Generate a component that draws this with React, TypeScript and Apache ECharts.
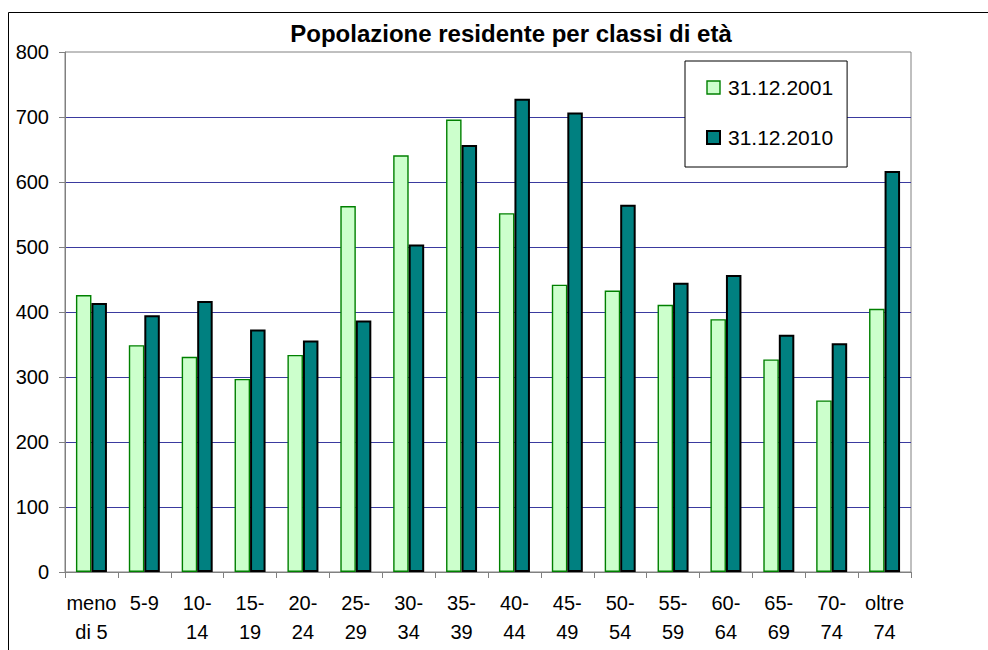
import React, { useEffect, useRef } from "react";
import * as echarts from "echarts";

const categories = [
  "meno\ndi 5", "5-9", "10-\n14", "15-\n19", "20-\n24", "25-\n29", "30-\n34", "35-\n39",
  "40-\n44", "45-\n49", "50-\n54", "55-\n59", "60-\n64", "65-\n69", "70-\n74", "oltre\n74",
];
const values2001 = [426, 349, 331, 297, 334, 563, 641, 696, 552, 442, 433, 411, 389, 327, 264, 405];
const values2010 = [414, 395, 417, 373, 356, 387, 504, 657, 728, 707, 565, 445, 457, 365, 352, 617];
const seriesNames = ["31.12.2001", "31.12.2010"];
const titleText = "Popolazione residente per classi di età";

const FONT = "'Liberation Sans', Arial, sans-serif";

export default function App() {
  const ref = useRef<HTMLDivElement>(null);
  useEffect(() => {
    if (!ref.current) return;
    const chart = echarts.init(ref.current, null, { renderer: "svg" });
    const lightStyle = { color: "#CCFFCC", borderColor: "#008000", borderWidth: 1.4 };
    const darkStyle = { color: "#008080", borderColor: "#000000", borderWidth: 2 };
    chart.setOption({
      animation: false,
      backgroundColor: "#ffffff",
      title: {
        text: titleText,
        left: 511,
        top: 21,
        textAlign: "center",
        padding: 0,
        textStyle: { fontFamily: FONT, fontSize: 24, fontWeight: "bold", color: "#000" },
      },
      graphic: [
        {
          type: "rect",
          shape: { x: 8.5, y: 12.5, width: 1200, height: 900 },
          style: { fill: "none", stroke: "#000", lineWidth: 1 },
          silent: true,
          z: 100,
        },
      ],
      legend: {
        orient: "vertical",
        left: 685,
        top: 61,
        padding: [16, 14, 19, 21],
        itemGap: 29,
        itemWidth: 13,
        itemHeight: 13,
        borderColor: "#000",
        borderWidth: 1,
        backgroundColor: "#fff",
        textStyle: { fontFamily: FONT, fontSize: 21, color: "#000", padding: [0, 0, 0, 3] },
        data: [
          { name: seriesNames[0], icon: "rect", itemStyle: lightStyle },
          { name: seriesNames[1], icon: "rect", itemStyle: darkStyle },
        ],
      },
      grid: {
        left: 65,
        top: 52,
        width: 846,
        height: 520,
        show: true,
        borderColor: "#808080",
        borderWidth: 1,
        containLabel: false,
        outerBoundsMode: "none",
      },
      xAxis: {
        type: "category",
        data: categories,
        axisLine: { show: true, lineStyle: { color: "#808080", width: 1 } },
        axisTick: { show: true, length: 6, lineStyle: { color: "#808080" } },
        axisLabel: {
          fontFamily: FONT,
          fontSize: 20,
          color: "#000",
          margin: 16,
          lineHeight: 29,
          interval: 0,
        },
        splitLine: { show: false },
      },
      yAxis: {
        type: "value",
        min: 0,
        max: 800,
        interval: 100,
        axisLine: { show: true, lineStyle: { color: "#808080", width: 1 } },
        axisTick: { show: true, length: 6, lineStyle: { color: "#808080" } },
        axisLabel: { fontFamily: FONT, fontSize: 20, color: "#000", margin: 16 },
        splitLine: { show: true, showMaxLine: false, lineStyle: { color: "#3A3A9F", width: 1 } },
      },
      series: [
        {
          name: seriesNames[0],
          type: "bar",
          data: values2001,
          barWidth: 15.5,
          barGap: "0%",
          itemStyle: lightStyle,
        },
        {
          name: seriesNames[1],
          type: "bar",
          data: values2010,
          barWidth: 15.5,
          barGap: "0%",
          itemStyle: darkStyle,
        },
      ],
    });
    return () => chart.dispose();
  }, []);
  return <div ref={ref} style={{ position: "fixed", left: 0, top: 0, width: 988, height: 650 }} />;
}
